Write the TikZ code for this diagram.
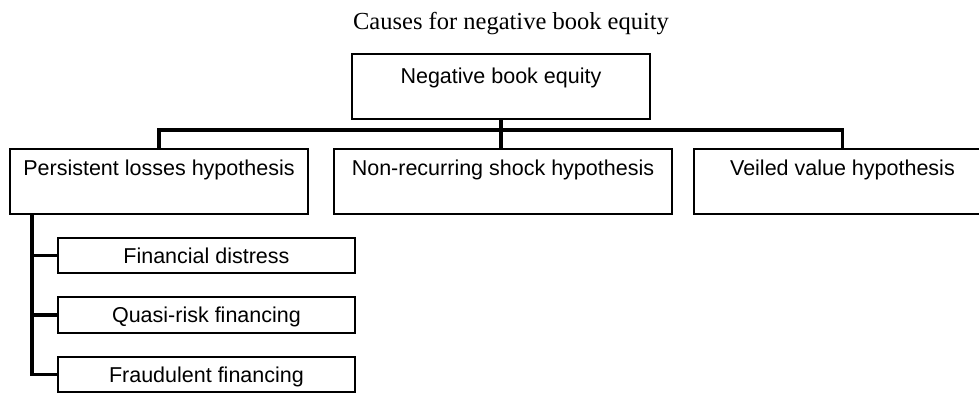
\documentclass[tikz,border=0pt]{standalone}
\usepackage{fontspec}
\setmainfont{Liberation Serif}
\newfontfamily\sansf{Liberation Sans}
\usetikzlibrary{calc}
\begin{document}
\begin{tikzpicture}[x=1pt,y=-1pt,
  box/.style={draw=black, line width=1.9pt, inner sep=0pt, anchor=north west,
    font=\sansf\fontsize{21.5}{26}\selectfont},
  bigbox/.style={box, text height=27pt, text depth=38pt},
  topbox/.style={box, text height=30pt, text depth=35pt},
  smallbox/.style={box, text height=26pt, text depth=9pt},
  conn/.style={line width=3.4pt, line cap=rect}]
\useasboundingbox (0,0) rectangle (979,392);
\fill[white] (0,0) rectangle (979,392);
\clip (0,0) rectangle (979,392);
\node[font=\fontsize{24.5}{28}\selectfont, anchor=base] (title) at (511,29) {Causes for negative book equity};
\node[topbox, minimum width=298pt] (nbe) at (351,53) {Negative book equity};
\node[bigbox, minimum width=298pt] (pl) at (9,148) {Persistent losses hypothesis};
\node[bigbox, minimum width=338pt] (nr) at (333,148) {Non-recurring shock hypothesis};
\node[bigbox, minimum width=297pt] (vv) at (693,148) {Veiled value hypothesis};
\node[smallbox, minimum width=297pt] (fd) at (57,237) {Financial distress};
\node[smallbox, minimum width=297pt, text depth=10pt] (qr) at (57,296) {Quasi-risk financing};
\node[smallbox, minimum width=297pt] (fr) at (57,356) {Fraudulent financing};
\coordinate (bar) at (500,130);
\coordinate (trunk) at ($(pl.south west)+(23,0)$);
\draw[conn] (nbe.south) -- (nbe.south |- nr.north);
\draw[conn] (pl.north) |- (bar) -| (vv.north);
\draw[conn] (trunk) |- (fr.west);
\draw[conn] (trunk |- fd.west) -- (fd.west);
\draw[conn] (trunk |- qr.west) -- (qr.west);
\end{tikzpicture}
\end{document}
